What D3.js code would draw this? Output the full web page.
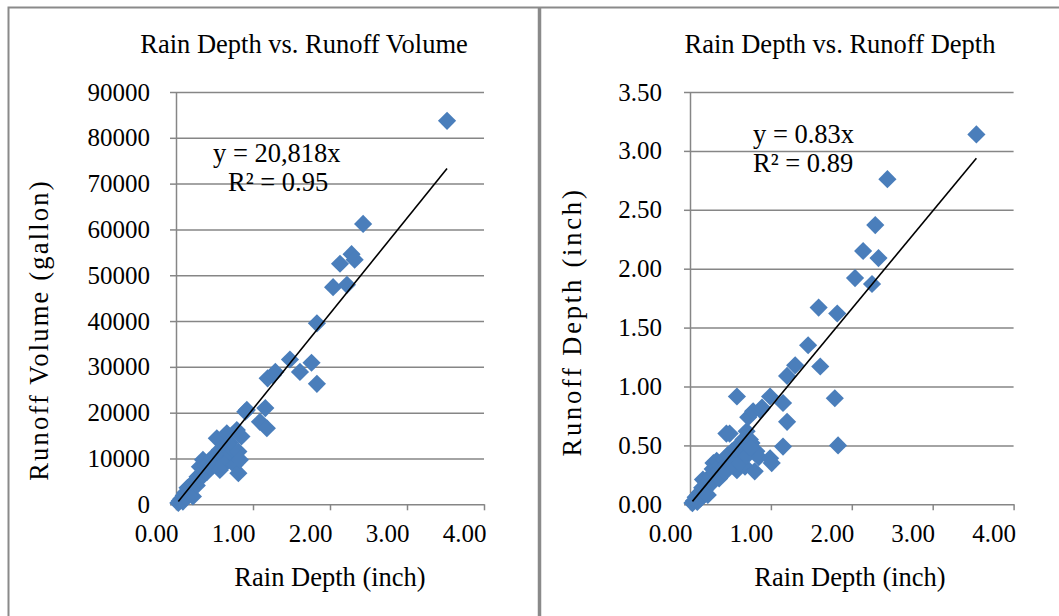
<!DOCTYPE html>
<html>
<head>
<meta charset="utf-8">
<script src="https://cdn.jsdelivr.net/npm/d3@7/dist/d3.min.js"></script>
<style>
    body { margin: 0; background: #fff; }
    svg text { font-family: "Liberation Serif", "Times New Roman", serif; fill: #000; }
    .grid line { stroke: #868686; stroke-width: 1.5px; }
    .grid path { display: none; }
    .axis path, .axis line { stroke: #868686; stroke-width: 1.5px; }
    .frame { stroke: #8a8a8a; fill: none; }
</style>
</head>
<body>
<script>

    var width = 1059;
    var height = 616;

    // left chart: rain depth (inch) vs runoff volume (gallon)
    var rainVol = [0.03, 0.05, 0.07, 0.09, 0.10, 0.12, 0.13, 0.15, 0.17, 0.18, 0.20, 0.22, 0.23, 0.25,
        0.27, 0.28, 0.30, 0.31, 0.33, 0.35, 0.36, 0.38, 0.40, 0.42, 0.45, 0.47, 0.50, 0.53, 0.55,
        0.57, 0.57, 0.60, 0.62, 0.64, 0.66, 0.68, 0.70, 0.72, 0.74, 0.76, 0.79, 0.81, 0.81, 0.83,
        0.85, 0.90, 0.92, 1.09, 1.16, 1.18, 1.19, 1.26, 1.29, 1.48, 1.61, 1.76, 1.83, 1.83, 2.04,
        2.13, 2.22, 2.28, 2.32, 2.43, 3.52];
    var volume = [300, 800, 1200, 600, 1900, 2500, 1500, 3600, 2800, 3900, 3200, 1700, 4500, 5200,
        4100, 6000, 5400, 8200, 6600, 9700, 7400, 8500, 7000, 9000, 8000, 10200, 9300, 14400, 11000,
        11900, 7500, 10500, 8800, 12500, 15500, 9600, 13500, 11000, 11900, 8600, 16200, 11500, 6800, 9700,
        14800, 20200, 20600, 18000, 21000, 16600, 27500, 28200, 28900, 31600, 28900, 30900, 26300, 39500, 47400,
        52500, 47900, 54600, 53400, 61200, 83700];

    // right chart: rain depth (inch) vs runoff depth (inch)
    var rainDep = [0.03, 0.05, 0.07, 0.09, 0.10, 0.12, 0.13, 0.15, 0.16, 0.18, 0.20, 0.22, 0.23, 0.25,
        0.27, 0.28, 0.29, 0.31, 0.33, 0.35, 0.37, 0.40, 0.42, 0.45, 0.45, 0.49, 0.50, 0.52, 0.55,
        0.58, 0.58, 0.60, 0.62, 0.64, 0.66, 0.68, 0.70, 0.72, 0.74, 0.76, 0.78, 0.80, 0.82, 0.85,
        0.87, 0.89, 0.99, 0.99, 1.01, 1.15, 1.15, 1.20, 1.20, 1.30, 1.46, 1.59, 1.61, 1.79, 1.82,
        1.83, 2.04, 2.14, 2.25, 2.29, 2.33, 2.44, 3.54,
        0.36, 0.43, 0.47, 0.53, 0.56, 0.61, 0.65, 0.70, 0.75];
    var runoff = [0.01, 0.03, 0.06, 0.02, 0.08, 0.10, 0.05, 0.14, 0.21, 0.12, 0.17, 0.08, 0.20, 0.24,
        0.18, 0.30, 0.35, 0.26, 0.37, 0.28, 0.33, 0.30, 0.38, 0.60, 0.34, 0.60, 0.40, 0.45, 0.36,
        0.29, 0.915, 0.50, 0.43, 0.38, 0.55, 0.32, 0.62, 0.74, 0.55, 0.52, 0.79, 0.28, 0.45, 0.40,
        0.80, 0.82, 0.915, 0.39, 0.35, 0.86, 0.49, 0.70, 1.09, 1.18, 1.35, 1.67, 1.17, 0.90, 1.62,
        0.50, 1.92, 2.15, 1.87, 2.37, 2.09, 2.76, 3.14,
        0.22, 0.27, 0.42, 0.33, 0.47, 0.35, 0.45, 0.41, 0.48];

    var xTicks = [0, 1, 2, 3, 4];
    var volTicks = [0, 10000, 20000, 30000, 40000, 50000, 60000, 70000, 80000, 90000];
    var depTicks = [0, 0.5, 1, 1.5, 2, 2.5, 3, 3.5];

    var svg = d3.select("body").append("svg")
        .attr("width", width)
        .attr("height", height);

    svg.append("rect").attr("width", width).attr("height", height).attr("fill", "#fff");

    // outer frame of the two panels
    svg.append("path").attr("class", "frame").attr("stroke-width", 2)
        .attr("d", "M8.5,616V7.5H1059");
    svg.append("line").attr("class", "frame").attr("stroke-width", 3.5)
        .attr("x1", 539.5).attr("x2", 539.5).attr("y1", 7).attr("y2", 616);

    function drawChart(c) {
        var x = d3.scaleLinear().domain([0, 4]).range([c.left, c.right]);
        var y = d3.scaleLinear().domain([0, c.yTicks[c.yTicks.length - 1]]).range([504.3, 92]);
        var g = svg.append("g");

        g.append("g").attr("class", "grid")
            .attr("transform", "translate(" + c.left + ",0)")
            .call(d3.axisLeft(y).tickValues(c.yTicks.slice(1)).tickSize(-(c.right - c.left)).tickFormat(""));

        g.append("g").attr("class", "axis")
            .attr("transform", "translate(" + c.left + ",0)")
            .call(d3.axisLeft(y).tickValues(c.yTicks).tickSize(6).tickSizeOuter(0).tickPadding(c.yPad).tickFormat(c.yFormat))
            .call(function (a) { a.selectAll("text").style("font-size", "25px"); });

        g.append("g").attr("class", "axis")
            .attr("transform", "translate(0,504.3)")
            .call(d3.axisBottom(x).tickValues(xTicks).tickSize(6).tickSizeOuter(0).tickPadding(14).tickFormat(d3.format(".2f")))
            .call(function (a) { a.selectAll("text").style("font-size", "25px").attr("dx", -20); });

        g.selectAll("path.pt")
            .data(c.xs)
            .enter().append("path")
            .attr("class", "pt")
            .attr("d", d3.symbol().type(d3.symbolSquare).size(165))
            .attr("fill", "#4a7ebb")
            .attr("transform", function (d, i) {
                return "translate(" + x(d) + "," + y(c.ys[i]) + ") rotate(45)";
            });

        var xMin = d3.min(c.xs), xMax = d3.max(c.xs);
        g.append("line")
            .attr("x1", x(xMin)).attr("y1", y(c.slope * xMin))
            .attr("x2", x(xMax)).attr("y2", y(c.slope * xMax))
            .attr("stroke", "#000").attr("stroke-width", 1.6);

        g.append("text").attr("x", c.titleX).attr("y", 53).attr("text-anchor", "middle")
            .style("font-size", "26.5px").text(c.title);
        g.append("text").attr("x", c.xTitleX).attr("y", 586).attr("text-anchor", "middle")
            .style("font-size", "26.5px").text("Rain Depth (inch)");
        // rotated titles in the source are drawn with wider letter spacing
        g.append("text").attr("transform", "translate(" + c.yTitleX + "," + c.yTitleY + ") rotate(-90)")
            .attr("text-anchor", "middle").style("font-size", "26.5px")
            .style("letter-spacing", c.yTitleSpacing + "px").text(c.yTitle);

        g.append("text").attr("x", c.eqX).attr("y", c.eqY).style("font-size", "26.5px").text(c.eq);
        g.append("text").attr("x", c.r2X).attr("y", c.eqY + 29).style("font-size", "26.5px").text(c.r2);
    }

    drawChart({
        xs: rainVol, ys: volume, yTicks: volTicks, yFormat: d3.format("d"), yPad: 20,
        left: 176, right: 484, slope: 20818,
        title: "Rain Depth vs. Runoff Volume", titleX: 304,
        xTitleX: 330, yTitle: "Runoff Volume (gallon)", yTitleX: 48, yTitleY: 330, yTitleSpacing: 2.2,
        eq: "y = 20,818x", eqX: 213, eqY: 162, r2: "R\u00b2 = 0.95", r2X: 228
    });

    drawChart({
        xs: rainDep, ys: runoff, yTicks: depTicks, yFormat: d3.format(".2f"), yPad: 22,
        left: 690, right: 1013.6, slope: 0.83,
        title: "Rain Depth vs. Runoff Depth", titleX: 840,
        xTitleX: 850, yTitle: "Runoff Depth (inch)", yTitleX: 581, yTitleY: 322, yTitleSpacing: 2.8,
        eq: "y = 0.83x", eqX: 753, eqY: 143, r2: "R\u00b2 = 0.89", r2X: 753
    });

</script>
</body>
</html>
